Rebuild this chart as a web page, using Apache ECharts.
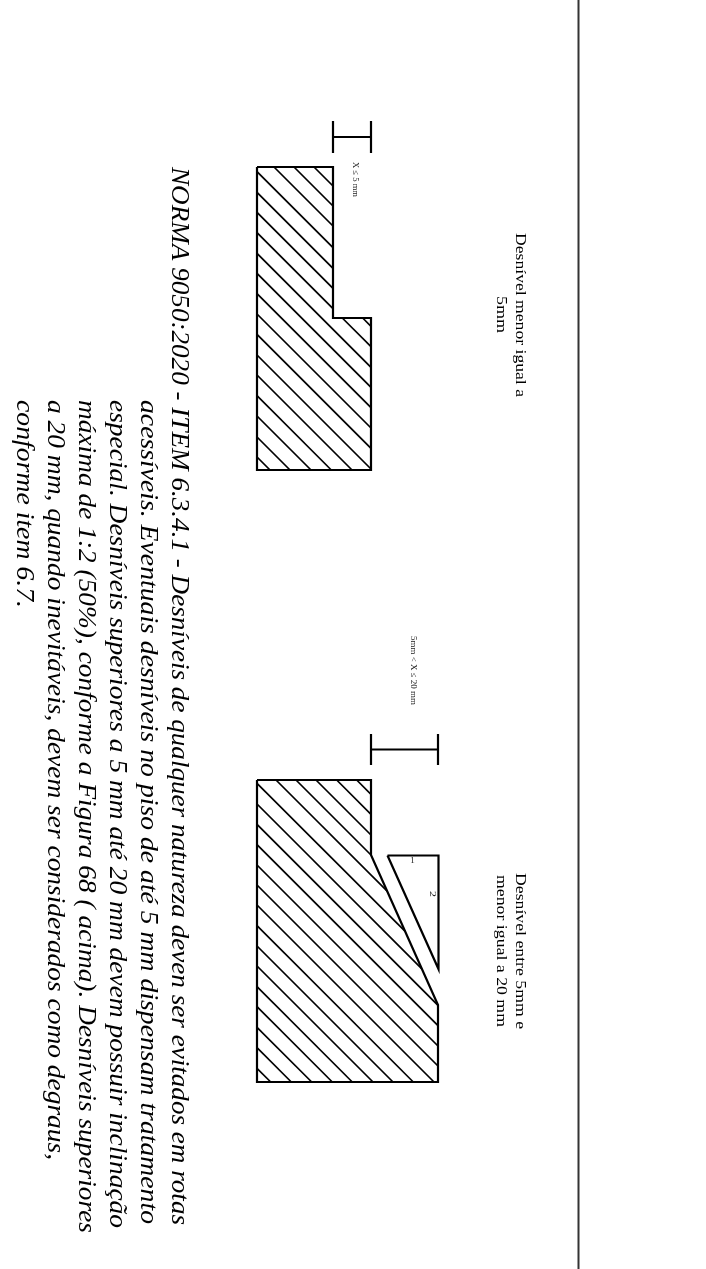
<!DOCTYPE html>
<html><head><meta charset="utf-8">
<style>html,body{margin:0;padding:0;background:#fff}#c{width:706px;height:1269px}</style>
<script src="https://cdn.jsdelivr.net/npm/echarts@6/dist/echarts.min.js"></script>
</head><body><div id="c"></div>
<script>
// Drawing values, in sheet units
const sheetWidth = 706, sheetHeight = 1269;
const divider = [[578.5,0],[578.5,1269]];
const profileA = [[257,167],[333,167],[333,318],[371,318],[371,470],[257,470],[257,167]];
const hatchA = [147,127,107,85.3,64.7,44.7,24.3,3.7,-16.3,-36.7,-57,-77.3,-98,-118,-138.7,-159,-180,-200];
const profileB = [[257,780],[371,780],[371,855],[438,1005],[438,1082],[257,1082],[257,780]];
const hatchB = [-423.3,-443.3,-464,-484,-504,-526.3,-547,-567.3,-587.7,-608,-628,-648,-668.7,-689,-709,-729.7,-749.7,-770.3,-790.7,-811.3];
const slopeTriangle = [[387.5,855.5],[438.5,855.5],[438.5,969],[387.5,855.5]];
const dimensionA = [[[333,121],[333,153]],[[371,121],[371,153]],[[333,137],[371,137]]];
const dimensionB = [[[371,734],[371,765]],[[438,734],[438,765]],[[371,749.5],[438,749.5]]];
const bodyLines = [
 "NORMA 9050:2020 - ITEM 6.3.4.1 - Desníveis de qualquer natureza deven ser evitados em rotas",
 "acessíveis. Eventuais desníveis no piso de até 5 mm dispensam tratamento",
 "especial. Desníveis superiores a 5 mm até 20 mm devem possuir inclinação",
 "máxima de 1:2 (50%), conforme a Figura 68 ( acima). Desníveis superiores",
 "a 20 mm, quando inevitáveis, devem ser considerados como degraus,",
 "conforme item 6.7."
];
const bodyX = [179,148,117,86,55,24];
const bodyStart = [167,400,400,400,400,400];
const bodyEnd = [1225,1224,1228,1233,1160,608];
const captions = ["Desnível menor igual a","5mm","Desnível entre 5mm e","menor igual a 20 mm"];
const captionX = [520.5,501.5,520.5,501.5];
const captionStart = [233,296,873,875];
const captionEnd = [397,333,1029,1027];
const smallTexts = ["X ≤ 5 mm","5mm < X ≤ 20 mm","2"];
const smallX = [355,413,432.5];
const smallStart = [162,636,891];
const smallEnd = [197,705,897];
const upright = ["1"];
const uprightX = [412.5];
const uprightY = [861];

function hatchSegments(poly, offsets){
  const out=[];
  offsets.forEach(c=>{
    const pts=[];
    for(let i=0;i<poly.length-1;i++){
      const [x1,y1]=poly[i],[x2,y2]=poly[i+1];
      const f1=x1-y1-c,f2=x2-y2-c;
      if((f1<0&&f2>=0)||(f1>=0&&f2<0)){
        const t=f1/(f1-f2); pts.push([x1+t*(x2-x1),y1+t*(y2-y1)]);
      }
    }
    pts.sort((a,b)=>a[1]-b[1]);
    for(let i=0;i+1<pts.length;i+=2) out.push([pts[i],pts[i+1]]);
  });
  return out;
}
const lineSer=(data,w,color)=>({type:'line',data,showSymbol:false,symbol:'none',silent:true,animation:false,
  lineStyle:{width:w,color:color||'#000',join:'miter',cap:'butt'}});
const segSer=(segs,w)=>({type:'custom',data:segs.map(s=>[s[0][0],s[0][1],s[1][0],s[1][1]]),silent:true,animation:false,
  encode:{x:[0,2],y:[1,3]},
  renderItem:(p,api)=>{const a=api.coord([api.value(0),api.value(1)]),b=api.coord([api.value(2),api.value(3)]);
    return {type:'line',shape:{x1:a[0],y1:a[1],x2:b[0],y2:b[1]},style:{stroke:'#000',lineWidth:w,fill:null}};}});
const textSer=(rows)=>({type:'custom',data:rows.map((r,i)=>[r.x,r.y,i]),silent:true,animation:false,
  encode:{x:0,y:1},
  renderItem:(p,api)=>{const r=rows[api.value(2)],a=api.coord([r.x,r.y]);
    return {type:'text',x:a[0],y:a[1],rotation:r.upright?0:-Math.PI/2,scaleX:r.sx||1,
      style:{text:r.text,font:r.font,fill:r.fill||'#000',textAlign:r.align,textVerticalAlign:'middle'}};}});

const ctx=document.createElement('canvas').getContext('2d');
const fit=(t,font,len)=>{ctx.font=font;return len/ctx.measureText(t).width;};
const bodyFont="italic 26px 'Liberation Serif'";
const capFont="15.5px 'Liberation Serif'";
const smallFont="9px 'Liberation Serif'";
const bodyRows=bodyLines.map((t,i)=>({text:t,x:bodyX[i],y:bodyStart[i],font:bodyFont,align:'left',
  sx:fit(t,bodyFont,bodyEnd[i]-bodyStart[i])}));
const capRows=captions.map((t,i)=>({text:t,x:captionX[i],y:captionStart[i],font:capFont,align:'left',
  sx:fit(t,capFont,captionEnd[i]-captionStart[i])}));
const smallRows=smallTexts.map((t,i)=>({text:t,x:smallX[i],y:smallStart[i],font:smallFont,align:'left',fill:'#222',
  sx:fit(t,smallFont,smallEnd[i]-smallStart[i])}));
const uprightRows=upright.map((t,i)=>({text:t,x:uprightX[i],y:uprightY[i],font:smallFont,align:'center',fill:'#222',upright:true}));

const chart=echarts.init(document.getElementById('c'),null,{renderer:'canvas'});
chart.setOption({animation:false,backgroundColor:'#fff',
  grid:{left:0,right:0,top:0,bottom:0},
  xAxis:{type:'value',min:0,max:sheetWidth,show:false},
  yAxis:{type:'value',min:0,max:sheetHeight,inverse:true,show:false},
  series:[
    lineSer(divider,2,'#333'),
    segSer(hatchSegments(profileA,hatchA),1.7),
    segSer(hatchSegments(profileB,hatchB),1.7),
    lineSer(profileA,2.2),lineSer(profileB,2.2),lineSer(slopeTriangle,2.2),
    segSer(dimensionA,2.2),segSer(dimensionB,2.2),
    textSer(bodyRows),textSer(capRows),textSer(smallRows),textSer(uprightRows)
  ]});
</script></body></html>
